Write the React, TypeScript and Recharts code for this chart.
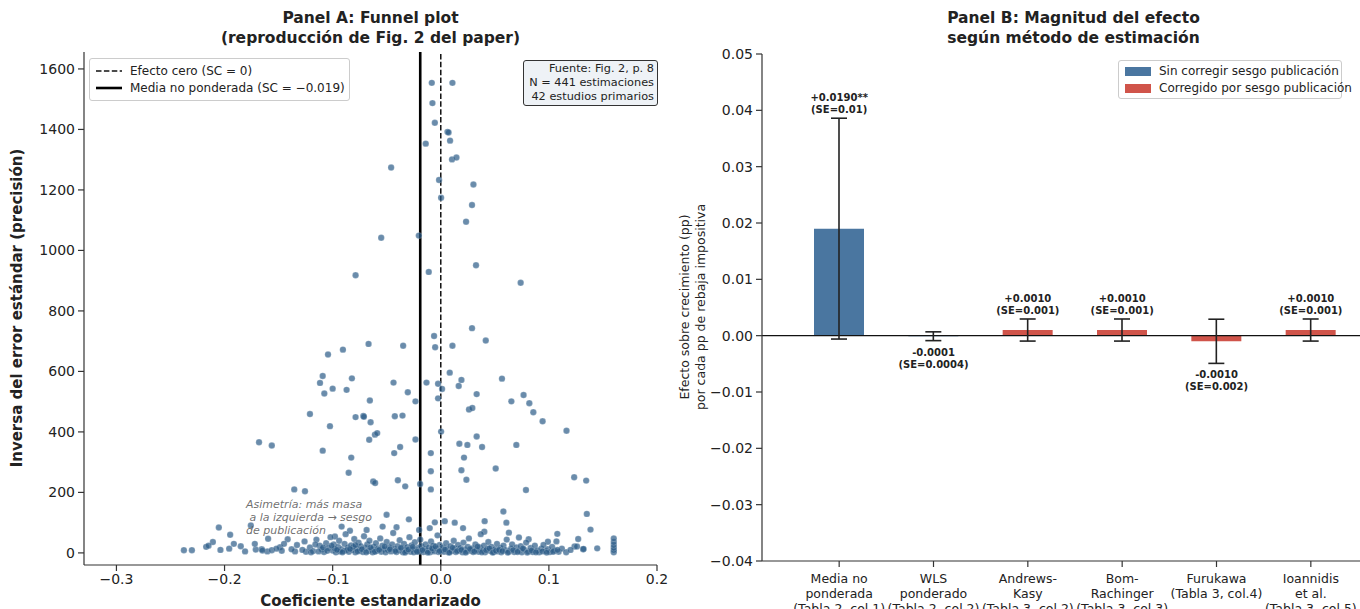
import React from "react";
import {
  Bar,
  Cell,
  ComposedChart,
  ErrorBar,
  LabelList,
  Line,
  ReferenceLine,
  Scatter,
  ScatterChart,
  XAxis,
  YAxis,
} from "recharts";

const FONT = "'DejaVu Sans', sans-serif";
const INK = "#222";
const DOT = "#2b5b88";
const BLUE = "#4a76a0";
const RED = "#d0544a";

/* ---------- Panel A: funnel plot (coef, 1/SE) ---------- */

const funnelUpper: [number, number][] = [
  [-0.0083, 1554], [0.0108, 1554], [-0.0077, 1487], [-0.0055, 1422], [0.0062, 1392], [0.0072, 1390],
  [0.0086, 1363], [-0.0139, 1353], [0.0104, 1301], [0.0145, 1307], [-0.0459, 1274], [-0.0016, 1233],
  [0.0302, 1218], [0.0003, 1174], [0.0289, 1150], [0.0234, 1095], [-0.0203, 1049], [-0.0551, 1042],
  [0.0326, 951], [-0.0111, 929], [0.0739, 893], [-0.0788, 918], [0.0289, 743], [-0.0062, 717],
  [0.0416, 702], [-0.0348, 685], [-0.0052, 680], [0.0108, 685], [0.0083, 596], [-0.0437, 563],
  [-0.0132, 563], [-0.0025, 559], [0.0012, 542], [0.0166, 552], [0.0191, 572], [0.0566, 576],
  [-0.0305, 531], [0.0332, 525], [0.0766, 522], [-0.0234, 501], [-0.0025, 511], [0.0653, 501],
  [0.0819, 495], [0.0261, 474], [0.0292, 479], [0.0856, 465], [-0.0425, 452], [-0.0354, 454],
  [0.0942, 435], [0.1163, 404], [0.0003, 401], [-0.0234, 375], [0.0332, 385], [0.0172, 361],
  [0.0246, 357], [0.0382, 350], [0.0699, 357], [-0.0376, 350], [-0.0431, 330], [-0.0092, 330],
  [0.0215, 315], [0.0508, 279], [-0.0092, 270], [0.0191, 273], [-0.0397, 240], [0.0237, 242],
  [0.1234, 250], [0.1345, 239], [-0.0329, 220], [-0.0191, 228], [-0.0092, 210], [0.0788, 208],
  [-0.0668, 691], [-0.0905, 672], [-0.1043, 656], [-0.1092, 585], [-0.1117, 562], [-0.0822, 577],
  [-0.1, 543], [-0.1077, 527], [-0.0871, 539], [-0.0656, 504], [-0.121, 459], [-0.0788, 449],
  [-0.0716, 453], [-0.0711, 450], [-0.0649, 432], [-0.0609, 391], [-0.0588, 396], [-0.1025, 419],
  [-0.0662, 374], [-0.1681, 366], [-0.1563, 355], [-0.1092, 338], [-0.0828, 315], [-0.0852, 265],
  [-0.0625, 236], [-0.0607, 231], [-0.1355, 210], [-0.1256, 204],
];

const funnelMid: [number, number][] = [
  [0.0579, 137], [0.1351, 129], [-0.0501, 126], [-0.0295, 111], [0.0037, 105], [0.0129, 100],
  [0.0406, 105], [0.0607, 100], [-0.0055, 101], [0.1385, 77], [0.1078, 63], [0.1271, 46],
  [0.1447, 15], [0.1237, 21], [0.126, 21], [0.1317, 12], [-0.0917, 87], [-0.0538, 87],
  [-0.0686, 76], [-0.0409, 85], [-0.02, 76], [-0.0102, 82], [0.0206, 82], [-0.084, 73],
  [-0.0979, 54], [0.0403, 70], [0.063, 67], [0.0723, 51], [0.0813, 45], [0.0991, 37], [0.132, 13],
  [-0.2053, 84], [-0.1757, 91], [-0.1948, 60], [-0.1597, 47], [-0.2108, 36], [-0.217, 20],
  [-0.2038, 10], [-0.2376, 9], [-0.2302, 9], [-0.1914, 30], [-0.1957, 14], [-0.181, 5],
  [-0.1711, 11], [-0.1656, 12], [-0.1604, 5], [-0.1563, 9], [-0.1487, 19], [-0.1471, 7],
  [-0.1416, 45], [-0.1348, 5], [-0.1247, 4], [-0.2148, 24],
  [0.16, 2], [0.16, 9], [0.16, 17], [0.16, 26], [0.16, 36], [0.16, 48],
];

const funnelCluster: [number, number][] = [
  [-0.185, 22], [-0.172, 30], [-0.165, 8], [-0.152, 14], [-0.145, 30], [-0.138, 12], [-0.133, 26],
  [-0.128, 10], [-0.126, 38], [-0.121, 18], [-0.118, 6], [-0.115, 44], [-0.112, 24], [-0.11, 12],
  [-0.108, 3], [-0.106, 32], [-0.104, 16], [-0.102, 52], [-0.1, 8], [-0.099, 28], [-0.097, 2],
  [-0.095, 20], [-0.094, 40], [-0.092, 12], [-0.09, 6], [-0.089, 30], [-0.088, 62], [-0.086, 18],
  [-0.085, 4], [-0.083, 25], [-0.082, 10], [-0.08, 46], [-0.079, 2], [-0.078, 14], [-0.076, 34],
  [-0.075, 8], [-0.074, 22], [-0.072, 3], [-0.071, 55], [-0.07, 16], [-0.068, 28], [-0.067, 6],
  [-0.066, 40], [-0.064, 11], [-0.063, 2], [-0.062, 20], [-0.06, 32], [-0.059, 7], [-0.058, 15],
  [-0.056, 48], [-0.055, 4], [-0.054, 24], [-0.053, 12], [-0.051, 2], [-0.05, 36], [-0.049, 9],
  [-0.048, 18], [-0.046, 5], [-0.045, 28], [-0.044, 66], [-0.043, 13], [-0.041, 3], [-0.04, 22],
  [-0.039, 8], [-0.038, 42], [-0.036, 15], [-0.035, 2], [-0.034, 30], [-0.033, 10], [-0.032, 6],
  [-0.031, 19], [-0.029, 52], [-0.028, 4], [-0.027, 25], [-0.026, 12], [-0.025, 2], [-0.024, 35],
  [-0.023, 8], [-0.021, 16], [-0.02, 5], [-0.019, 44], [-0.018, 22], [-0.016, 3], [-0.015, 12],
  [-0.014, 28], [-0.013, 7], [-0.011, 18], [-0.01, 2], [-0.009, 38], [-0.008, 10], [-0.007, 24],
  [-0.006, 5], [-0.004, 14], [-0.003, 58], [-0.002, 3], [-0.001, 26], [0.001, 9], [0.002, 18],
  [0.003, 4], [0.005, 32], [0.006, 12], [0.007, 2], [0.009, 22], [0.01, 6], [0.012, 40],
  [0.013, 14], [0.014, 3], [0.016, 26], [0.017, 8], [0.018, 16], [0.02, 2], [0.021, 34],
  [0.022, 11], [0.024, 5], [0.025, 20], [0.026, 48], [0.028, 7], [0.029, 15], [0.03, 3],
  [0.032, 28], [0.033, 10], [0.035, 4], [0.036, 18], [0.037, 62], [0.039, 8], [0.04, 24],
  [0.041, 2], [0.043, 14], [0.044, 36], [0.046, 6], [0.047, 20], [0.049, 3], [0.05, 12],
  [0.052, 30], [0.053, 5], [0.055, 16], [0.056, 2], [0.058, 24], [0.06, 9], [0.061, 44],
  [0.063, 4], [0.065, 14], [0.066, 28], [0.068, 3], [0.07, 18], [0.072, 7], [0.074, 22],
  [0.075, 2], [0.077, 11], [0.079, 34], [0.081, 5], [0.083, 16], [0.085, 3], [0.087, 24],
  [0.089, 8], [0.091, 2], [0.093, 14], [0.095, 26], [0.097, 6], [0.099, 12], [0.101, 3],
  [0.103, 20], [0.105, 8], [0.107, 38], [0.109, 4], [0.112, 14], [0.116, 2], [0.12, 10],
  [-0.098, 14], [-0.093, 5], [-0.087, 9], [-0.081, 20], [-0.077, 5], [-0.073, 12], [-0.069, 2],
  [-0.065, 18], [-0.061, 4], [-0.057, 10], [-0.052, 21], [-0.047, 12], [-0.042, 6], [-0.037, 17],
  [-0.033, 1], [-0.03, 11], [-0.026, 20], [-0.022, 4], [-0.017, 9], [-0.012, 1], [-0.008, 15],
  [-0.005, 21], [-0.001, 6], [0.004, 11], [0.008, 1], [0.011, 17], [0.015, 6], [0.019, 10],
  [0.023, 1], [0.027, 13], [0.031, 5], [0.034, 21], [0.038, 2], [0.042, 9], [0.045, 15],
  [0.048, 1], [0.051, 7], [0.054, 10], [0.057, 6], [0.062, 1], [0.067, 9], [0.071, 3],
  [0.076, 15], [0.08, 1], [0.084, 8], [0.088, 2], [0.094, 5], [0.098, 1], [0.104, 4], [0.108, 10],
  [-0.12, 2], [-0.116, 28], [-0.113, 5], [-0.109, 18], [-0.105, 7], [-0.101, 24], [-0.096, 10],
  [-0.091, 2], [-0.084, 13], [-0.079, 26],
];

const funnelXTicks = [-0.3, -0.2, -0.1, 0, 0.1, 0.2];
const funnelYTicks = [0, 200, 400, 600, 800, 1000, 1200, 1400, 1600];
const ZERO_EFFECT = 0;
const UNWEIGHTED_MEAN = -0.019;

/* ---------- Panel B: effect by estimation method ---------- */

const methodLines = [
  ["Media no", "ponderada", "(Tabla 2, col.1)"],
  ["WLS", "ponderado", "(Tabla 2, col.2)"],
  ["Andrews-", "Kasy", "(Tabla 3, col.2)"],
  ["Bom-", "Rachinger", "(Tabla 3, col.3)"],
  ["Furukawa", "(Tabla 3, col.4)"],
  ["Ioannidis", "et al.", "(Tabla 3, col.5)"],
];
const effects = [0.019, -0.0001, 0.001, 0.001, -0.001, 0.001];
const ci95 = [0.0196, 0.00078, 0.00196, 0.00196, 0.00392, 0.00196];
const corrected = [false, false, true, true, true, true];
const valueLabels = ["+0.0190**", "-0.0001", "+0.0010", "+0.0010", "-0.0010", "+0.0010"];
const seLabels = ["(SE=0.01)", "(SE=0.0004)", "(SE=0.001)", "(SE=0.001)", "(SE=0.002)", "(SE=0.001)"];
const effectTicks = [-0.04, -0.03, -0.02, -0.01, 0, 0.01, 0.02, 0.03, 0.04, 0.05];

const funnelData = [...funnelUpper, ...funnelMid, ...funnelCluster].map(([x, y]) => ({ x, y }));

const methodData = methodLines.map((lines, i) => ({
  name: lines.join(" "),
  effect: effects[i],
  ci: ci95[i],
  anchor: effects[i] >= 0 ? effects[i] + ci95[i] : effects[i] - ci95[i],
}));

const minus = (s: string) => s.replace("-", "\u2212");
const fmtA = (v: number) => minus(v.toFixed(1));
const fmtB = (v: number) => minus(v.toFixed(2));

const tickStyle = { fill: INK, fontSize: 14, fontFamily: FONT };
const axisStroke = { stroke: "#333", strokeWidth: 1.2 };

function MethodTick(props: any) {
  const { x, y, payload } = props;
  const lines = methodLines[payload.index];
  return (
    <text x={x} y={y} textAnchor="middle" fill={INK} fontSize={12.5} fontFamily={FONT}>
      {lines.map((l, i) => (
        <tspan key={i} x={x} dy={i === 0 ? 14 : 15}>
          {l}
        </tspan>
      ))}
    </text>
  );
}

function BarNote(props: any) {
  const { x, y, index } = props;
  const up = effects[index] >= 0;
  const y1 = up ? y - 17 : y + 15;
  const y2 = up ? y - 5 : y + 27;
  return (
    <g fontFamily={FONT} fontSize={10} fontWeight="bold" fill={INK} textAnchor="middle">
      <text x={x} y={y1}>{valueLabels[index]}</text>
      <text x={x} y={y2}>{seLabels[index]}</text>
    </g>
  );
}

const abs = (l: number, t: number, extra: React.CSSProperties = {}): React.CSSProperties => ({
  position: "absolute",
  left: l,
  top: t,
  ...extra,
});

export default function App() {
  return (
    <div
      style={{
        position: "fixed",
        left: 0,
        top: 0,
        width: 1360,
        height: 609,
        overflow: "hidden",
        background: "#fff",
        fontFamily: FONT,
        color: INK,
      }}
    >
      {/* Panel A */}
      <div style={abs(0, 0)}>
        <ScatterChart width={680} height={620} margin={{ top: 52, right: 23, bottom: 25, left: 24 }}>
          <XAxis
            type="number"
            dataKey="x"
            domain={[-0.33, 0.2]}
            ticks={funnelXTicks}
            interval={0}
            tickFormatter={fmtA}
            tick={tickStyle}
            axisLine={axisStroke}
            tickLine={axisStroke}
            tickSize={6}
            tickMargin={3}
            height={30}
            allowDataOverflow
          />
          <YAxis
            type="number"
            dataKey="y"
            domain={[-40, 1656]}
            ticks={funnelYTicks}
            interval={0}
            tick={tickStyle}
            axisLine={axisStroke}
            tickLine={axisStroke}
            tickSize={6}
            tickMargin={3}
            width={60}
            allowDataOverflow
          />
          <Scatter
            data={funnelData}
            isAnimationActive={false}
            shape={(p: any) => (
              <circle cx={p.cx} cy={p.cy} r={3.2} fill={DOT} fillOpacity={0.7} stroke="#fff" strokeOpacity={0.5} strokeWidth={0.4} />
            )}
          />
          <ReferenceLine x={ZERO_EFFECT} stroke="#111" strokeWidth={1.5} strokeDasharray="5.5 2.4" />
          <ReferenceLine x={UNWEIGHTED_MEAN} stroke="#000" strokeWidth={2.6} />
        </ScatterChart>
      </div>

      <div style={abs(0, 8, { width: 741, textAlign: "center", fontWeight: "bold", fontSize: 15.5, lineHeight: "20px" })}>
        Panel A: Funnel plot
        <br />
        (reproducción de Fig. 2 del paper)
      </div>
      <div style={abs(0, 592, { width: 741, textAlign: "center", fontWeight: "bold", fontSize: 15 })}>
        Coeficiente estandarizado
      </div>
      <div
        style={abs(17, 308, {
          transform: "translate(-50%, -50%) rotate(-90deg)",
          whiteSpace: "nowrap",
          fontWeight: "bold",
          fontSize: 15,
        })}
      >
        Inversa del error estándar (precisión)
      </div>

      {/* Panel A legend */}
      <div
        style={abs(89, 58, {
          width: 259,
          height: 41,
          border: "1px solid #ccc",
          borderRadius: 3,
          background: "rgba(255,255,255,0.85)",
          fontSize: 12,
          whiteSpace: "nowrap",
        })}
      >
        <div style={abs(6, 5, { display: "flex", alignItems: "center" })}>
          <svg width={26} height={10}>
            <line x1={0} y1={5} x2={26} y2={5} stroke="#111" strokeWidth={1.5} strokeDasharray="5.5 2.4" />
          </svg>
          <span style={{ marginLeft: 8 }}>Efecto cero (SC = 0)</span>
        </div>
        <div style={abs(6, 22, { display: "flex", alignItems: "center" })}>
          <svg width={26} height={10}>
            <line x1={0} y1={5} x2={26} y2={5} stroke="#000" strokeWidth={2.6} />
          </svg>
          <span style={{ marginLeft: 8 }}>Media no ponderada (SC = −0.019)</span>
        </div>
      </div>

      {/* Panel A source box */}
      <div
        style={abs(523, 60, {
          width: 127,
          padding: "1px 3px",
          border: "1.2px solid #333",
          borderRadius: 3,
          background: "#eef2f6",
          fontSize: 11.3,
          lineHeight: "14px",
          textAlign: "right",
          whiteSpace: "nowrap",
        })}
      >
        Fuente: Fig. 2, p. 8
        <br />N = 441 estimaciones
        <br />
        42 estudios primarios
      </div>

      {/* Panel A asymmetry note */}
      <div
        style={abs(246, 498, {
          fontSize: 11,
          lineHeight: "13px",
          fontStyle: "italic",
          color: "rgba(85,85,85,0.85)",
          whiteSpace: "pre",
        })}
      >
        {"Asimetría: más masa\n a la izquierda → sesgo\nde publicación"}
      </div>

      {/* Panel B */}
      <div style={abs(680, 0)}>
        <ComposedChart width={720} height={660} data={methodData} margin={{ top: 54, right: 12, bottom: 9, left: 12 }}>
          <XAxis
            dataKey="name"
            interval={0}
            padding={{ left: 30, right: 30 }}
            tick={<MethodTick />}
            axisLine={axisStroke}
            tickLine={axisStroke}
            tickSize={6}
            tickMargin={2}
            height={90}
          />
          <YAxis
            type="number"
            domain={[-0.04, 0.05]}
            ticks={effectTicks}
            interval={0}
            tickFormatter={fmtB}
            tick={tickStyle}
            axisLine={axisStroke}
            tickLine={axisStroke}
            tickSize={6}
            tickMargin={3}
            width={70}
            allowDataOverflow
          />
          <ReferenceLine y={0} stroke="#111" strokeWidth={1.3} />
          <Bar dataKey="effect" barSize={50} isAnimationActive={false} legendType="none">
            {methodData.map((_, i) => (
              <Cell key={i} fill={corrected[i] ? RED : BLUE} />
            ))}
            <ErrorBar dataKey="ci" width={8} stroke={INK} strokeWidth={1.6} direction="y" />
          </Bar>
          <Line
            dataKey="anchor"
            stroke="none"
            dot={false}
            activeDot={false}
            isAnimationActive={false}
            legendType="none"
          >
            <LabelList dataKey="anchor" content={<BarNote />} />
          </Line>
        </ComposedChart>
      </div>

      <div style={abs(762, 8, { width: 623, textAlign: "center", fontWeight: "bold", fontSize: 15.5, lineHeight: "20px" })}>
        Panel B: Magnitud del efecto
        <br />
        según método de estimación
      </div>
      <div
        style={abs(693, 307, {
          transform: "translate(-50%, -50%) rotate(-90deg)",
          whiteSpace: "nowrap",
          textAlign: "center",
          fontSize: 12.5,
          lineHeight: "16px",
        })}
      >
        Efecto sobre crecimiento (pp)
        <br />
        por cada pp de rebaja impositiva
      </div>

      {/* Panel B legend */}
      <div
        style={abs(1118, 60, {
          width: 222,
          height: 37,
          border: "1px solid #ccc",
          borderRadius: 3,
          background: "rgba(255,255,255,0.85)",
          fontSize: 12,
          whiteSpace: "nowrap",
        })}
      >
        <div style={abs(6, 3, { display: "flex", alignItems: "center" })}>
          <span style={{ width: 26, height: 9, background: BLUE, display: "inline-block" }} />
          <span style={{ marginLeft: 8 }}>Sin corregir sesgo publicación</span>
        </div>
        <div style={abs(6, 20, { display: "flex", alignItems: "center" })}>
          <span style={{ width: 26, height: 9, background: RED, display: "inline-block" }} />
          <span style={{ marginLeft: 8 }}>Corregido por sesgo publicación</span>
        </div>
      </div>
    </div>
  );
}
